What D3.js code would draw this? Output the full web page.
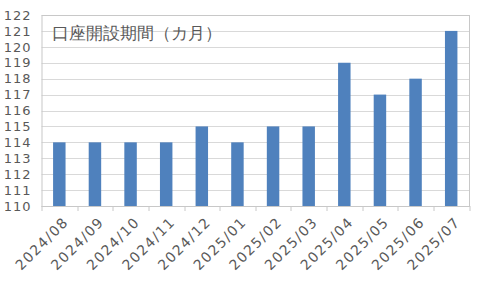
<!DOCTYPE html>
<html>
<head>
<meta charset="utf-8">
<script src="https://cdn.jsdelivr.net/npm/d3@7"></script>
<style>
  body { margin: 0; background: #fff; }
  text { font-family: "DejaVu Sans", sans-serif; fill: #595959; }
</style>
</head>
<body>
<div id="chart-area"></div>
<script>
const WIDTH = 480;
const HEIGHT = 288;

// data
const months = ["2024/08", "2024/09", "2024/10", "2024/11", "2024/12", "2025/01",
  "2025/02", "2025/03", "2025/04", "2025/05", "2025/06", "2025/07"];
const values = [114, 114, 114, 114, 115, 114, 115, 115, 119, 117, 118, 121];
const yTicks = [110, 111, 112, 113, 114, 115, 116, 117, 118, 119, 120, 121, 122];
const title = "口座開設期間（カ月）";

const margin = {top: 15, right: 11, bottom: 82, left: 41.5};
const graphWidth = WIDTH - margin.left - margin.right;
const graphHeight = HEIGHT - margin.top - margin.bottom;

const svg = d3.select("#chart-area").append("svg")
  .attr("width", WIDTH)
  .attr("height", HEIGHT);

const graph = svg.append("g")
  .attr("transform", `translate(${margin.left}, ${margin.top})`);

// scales
const x = d3.scaleBand()
  .domain(months)
  .range([0, graphWidth])
  .paddingInner(0.65)
  .paddingOuter(0.325);

const y = d3.scaleLinear()
  .domain([110, 122])
  .range([graphHeight, 0]);

// gridlines
graph.append("g")
  .selectAll("line")
  .data(yTicks)
  .enter().append("line")
    .attr("x1", 0)
    .attr("x2", graphWidth)
    .attr("y1", d => Math.round(y(d)) + 0.5)
    .attr("y2", d => Math.round(y(d)) + 0.5)
    .attr("stroke", "#d9d9d9");

// plot border
graph.append("rect")
  .attr("x", 0.5)
  .attr("y", 0.5)
  .attr("width", graphWidth)
  .attr("height", graphHeight)
  .attr("fill", "none")
  .attr("stroke", "#c8c8c8");

// bars
graph.selectAll("rect.bar").data(values)
  .enter().append("rect")
    .attr("class", "bar")
    .attr("x", (d, i) => x(months[i]))
    .attr("width", x.bandwidth())
    .attr("y", d => y(d))
    .attr("height", d => graphHeight - y(d))
    .attr("fill", "#4f81bd");

// x axis: ticks between categories
const xAxisGroup = graph.append("g")
  .attr("transform", `translate(0, ${graphHeight})`);
const step = x.step();
xAxisGroup.selectAll("line.tick")
  .data(d3.range(months.length + 1))
  .enter().append("line")
    .attr("x1", i => Math.round(i * step) + 0.5)
    .attr("x2", i => Math.round(i * step) + 0.5)
    .attr("y1", 0)
    .attr("y2", 5)
    .attr("stroke", "#c8c8c8");

xAxisGroup.selectAll("text")
  .data(months)
  .enter().append("text")
    .attr("transform", d => `translate(${x(d) + x.bandwidth() / 2 + 3}, 10) rotate(-45)`)
    .attr("text-anchor", "end")
    .attr("dy", "0.7em")
    .attr("font-size", "14px")
    .attr("letter-spacing", "1.4px")
    .text(d => d);

// y axis labels
graph.append("g")
  .selectAll("text")
  .data(yTicks)
  .enter().append("text")
    .attr("x", -10)
    .attr("y", d => y(d))
    .attr("dy", "0.36em")
    .attr("text-anchor", "end")
    .attr("font-size", "13px")
    .attr("letter-spacing", "1px")
    .text(d => d);

// title inside plot
graph.append("text")
  .attr("x", 10)
  .attr("y", 24)
  .attr("font-size", "17px")
  .attr("font-family", "'Noto Sans CJK JP', sans-serif")
  .text(title);
</script>
</body>
</html>
